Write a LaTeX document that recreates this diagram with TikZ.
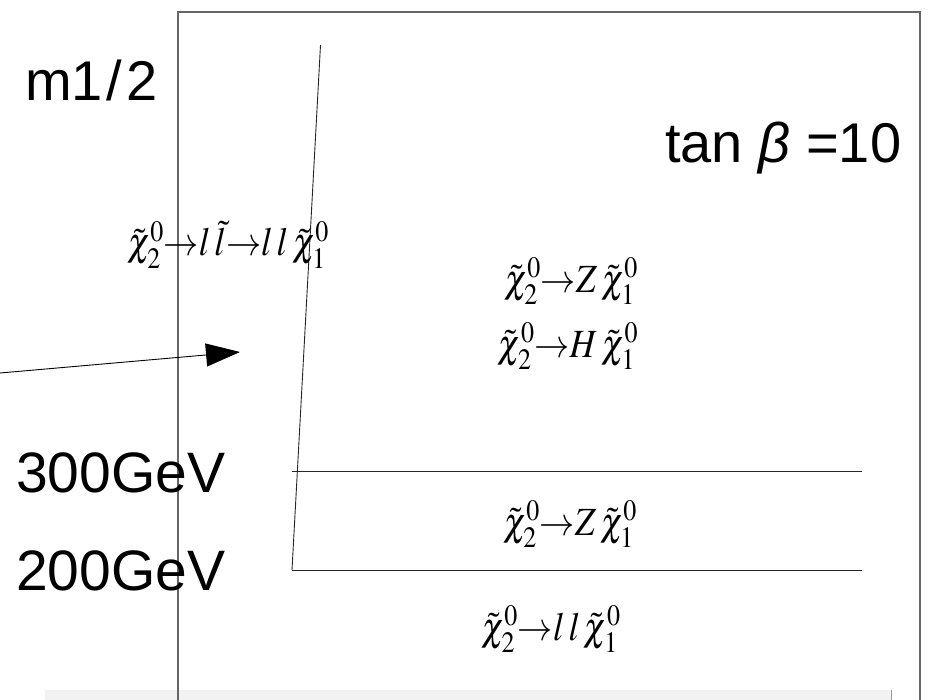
\documentclass[tikz,border=0pt]{standalone}
\usepackage{mathptmx}
\usepackage{fontspec}
\setmainfont{Liberation Sans}
\usetikzlibrary{arrows.meta}
\definecolor{barfill}{HTML}{F2F2F2}
\newcommand{\frmx}[1]{\scalebox{0.88}[1]{$#1$}}
\begin{document}
\begin{tikzpicture}[x=1pt,y=-1pt,
  lbl/.style={inner sep=0pt, anchor=base west},
  frm/.style={inner sep=0pt, anchor=base, font=\fontsize{40}{44}\selectfont},
  ln/.style={draw=black!85, line width=0.9pt},
  frame/.style={draw=black!60, line width=1.3pt}]
\useasboundingbox (0,0) rectangle (933,700);
% gray bar at the bottom
\fill[barfill] (45,690) rectangle (891,700);
\draw[black!40, line width=1pt] (891,690) -- (891,700);
% frame
\coordinate (fTL) at (178,12);
\coordinate (fTR) at (920,12);
\coordinate (fBL) at (178,702);
\coordinate (fBR) at (920,702);
\draw[frame] (fBL) -- (fTL) -- (fTR) -- (fBR);
% steep line and horizontals
\coordinate (sTop) at (320.5,45);
\coordinate (sBot) at (292,570);
\coordinate (h1L) at (292,471);
\coordinate (h1R) at (862,471);
\coordinate (h2R) at (862,570);
\draw[ln] (sTop) -- (sBot);
\draw[ln] (h1L) -- (h1R);
\draw[ln] (sBot) -- (h2R);
% arrow
\coordinate (aS) at (0,373);
\coordinate (aE) at (240,352);
\draw[line width=0.9pt, -{Triangle[length=34pt,width=23pt]}] (aS) -- (aE);
% labels
\node[lbl, font=\fontsize{56}{60}\selectfont] (m12) at (25,101) {m1\kern4pt/\kern4pt2};
\node[lbl, font=\fontsize{56}{60}\selectfont] (tanb) at (665,163) {tan \textit{β} =10};
\node[lbl, font=\fontsize{57}{60}\selectfont] (g300) at (16,492) {300GeV};
\node[lbl, font=\fontsize{57}{60}\selectfont] (g200) at (16,590) {200GeV};
% formulas
\node[frm] (f1) at (228,256) {\frmx{\tilde{\chi}^0_2{\rightarrow}l\,\tilde{l}{\rightarrow}l\,l\,\tilde{\chi}^0_1}};
\node[frm] (f2) at (571,292) {\frmx{\tilde{\chi}^0_2{\rightarrow}Z\,\tilde{\chi}^0_1}};
\node[frm] (f3) at (568,357) {\frmx{\tilde{\chi}^0_2{\rightarrow}H\,\tilde{\chi}^0_1}};
\node[frm] (f4) at (570,535) {\frmx{\tilde{\chi}^0_2{\rightarrow}Z\,\tilde{\chi}^0_1}};
\node[frm] (f5) at (551,640) {\frmx{\tilde{\chi}^0_2{\rightarrow}l\,l\,\tilde{\chi}^0_1}};
\end{tikzpicture}
\end{document}
